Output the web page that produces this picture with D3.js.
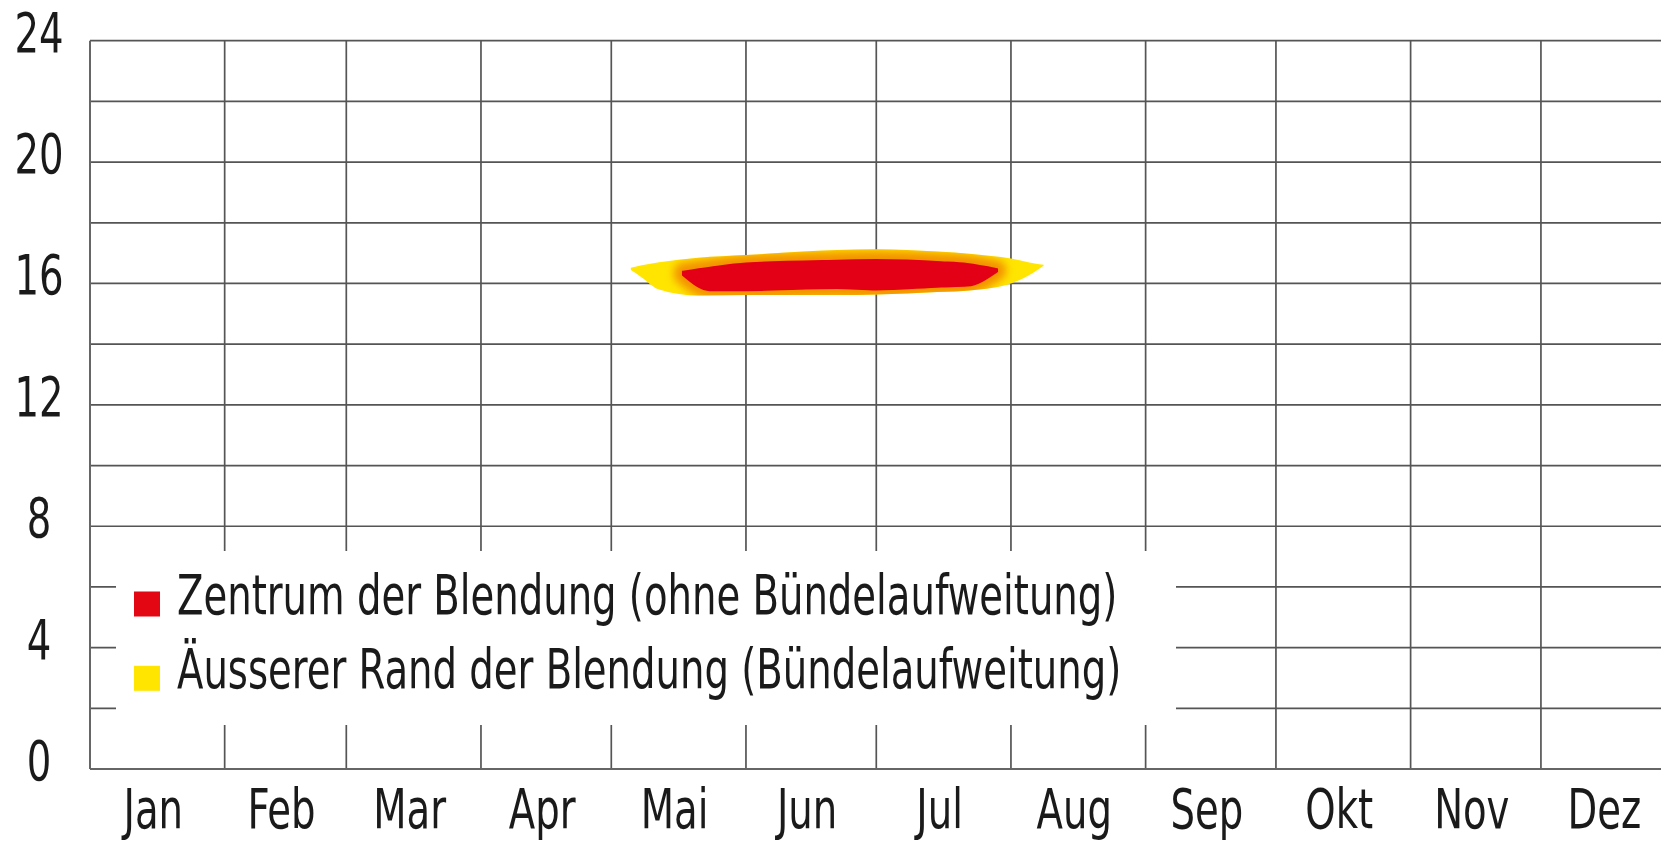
<head>
<style>
    body { margin: 0; background: #fff; }
    text { font-family: 'Liberation Sans Narrow', 'DejaVu Sans Condensed', 'DejaVu Sans', sans-serif; fill: #1a1a1a; }
</style>
</head>
<body>
    <div id='chart'></div>
</body>
<script src='https://cdn.jsdelivr.net/npm/d3@7'></script>
<script>
    var width = 1661,
        height = 842;

    // months and their length in days (x axis is day of year)
    var months = ['Jan', 'Feb', 'Mar', 'Apr', 'Mai', 'Jun', 'Jul', 'Aug', 'Sep', 'Okt', 'Nov', 'Dez'];
    var month_days = [31, 28, 31, 30, 31, 30, 31, 31, 30, 31, 30, 31];

    var y_labels = [0, 4, 8, 12, 16, 20, 24];
    var y_grid = [2, 4, 6, 8, 10, 12, 14, 16, 18, 20, 22, 24];

    // outer edge of glare (yellow), day of year / lower hour / upper hour
    var outer_day = [124.5, 127, 131, 140, 151, 172, 181, 195, 203, 212, 217.5, 219.5];
    var outer_lo  = [16.44, 16.20, 15.80, 15.60, 15.62, 15.62, 15.64, 15.72, 15.78, 16.00, 16.39, 16.58];
    var outer_hi  = [16.52, 16.60, 16.70, 16.85, 16.94, 17.10, 17.13, 17.05, 16.97, 16.82, 16.66, 16.62];

    // centre of glare (red)
    var inner_day = [136.5, 142.7, 151, 172, 181, 196, 202, 208.8];
    var inner_lo  = [16.28, 15.78, 15.78, 15.85, 15.80, 15.90, 15.93, 16.40];
    var inner_hi  = [16.39, 16.52, 16.66, 16.75, 16.77, 16.70, 16.64, 16.47];

    var legend_items = ['Zentrum der Blendung (ohne Bündelaufweitung)', 'Äusserer Rand der Blendung (Bündelaufweitung)'];
    var legend_colors = ['#e30613', '#ffe500'];

    var margin = {left: 90, top: 40.7, bottom: 769};
    var squeeze = 0.78; // the original uses a condensed face

    var svg = d3.select('#chart')
        .append('svg')
        .attr('width', width)
        .attr('height', height);

    var month_start = [0];
    month_days.forEach(function(d, i){ month_start.push(month_start[i] + d); });

    var x = d3.scaleLinear()
        .domain([0, 365])
        .range([margin.left, 1675.6]);

    var y = d3.scaleLinear()
        .domain([0, 24])
        .range([margin.bottom, margin.top]);

    var area = d3.area()
        .x(function(d){ return x(d.day); })
        .y0(function(d){ return y(d.lo); })
        .y1(function(d){ return y(d.hi); })
        .curve(d3.curveMonotoneX);

    var outer = outer_day.map(function(d, i){ return {day: d, lo: outer_lo[i], hi: outer_hi[i]}; });
    var inner = inner_day.map(function(d, i){ return {day: d, lo: inner_lo[i], hi: inner_hi[i]}; });

    var defs = svg.append('defs');
    defs.append('filter')
        .attr('id', 'soft')
        .attr('x', '-20%').attr('y', '-100%').attr('width', '140%').attr('height', '300%')
        .append('feGaussianBlur')
        .attr('stdDeviation', 4);
    defs.append('filter')
        .attr('id', 'edge')
        .append('feGaussianBlur')
        .attr('stdDeviation', 0.7);
    defs.append('clipPath')
        .attr('id', 'outer-clip')
        .append('path')
        .attr('d', area(outer));

    var grid = svg.append('g');

    // horizontal grid lines
    grid.selectAll('line.h')
        .data(y_grid)
        .join('line')
        .attr('class', 'h')
        .attr('x1', margin.left)
        .attr('x2', x(365))
        .attr('y1', function(d){ return y(d); })
        .attr('y2', function(d){ return y(d); })
        .style('stroke', '#555')
        .style('stroke-width', 1.7);

    // vertical grid lines at month boundaries
    grid.selectAll('line.v')
        .data(month_start.slice(1, 12))
        .join('line')
        .attr('class', 'v')
        .attr('x1', function(d){ return x(d); })
        .attr('x2', function(d){ return x(d); })
        .attr('y1', y(24))
        .attr('y2', y(0))
        .style('stroke', '#555')
        .style('stroke-width', 1.7);

    // axes
    svg.append('line')
        .attr('x1', margin.left).attr('x2', margin.left)
        .attr('y1', y(24)).attr('y2', y(0))
        .style('stroke', '#666').style('stroke-width', 2);
    svg.append('line')
        .attr('x1', margin.left).attr('x2', x(365))
        .attr('y1', y(0)).attr('y2', y(0))
        .style('stroke', '#666').style('stroke-width', 2);

    // glare areas
    var glare = svg.append('g');

    glare.append('path')
        .attr('d', area(outer))
        .style('fill', '#ffe500')
        .style('filter', 'url(#edge)');

    glare.append('g')
        .attr('clip-path', 'url(#outer-clip)')
        .append('path')
        .attr('d', area(inner))
        .style('fill', '#f7a600')
        .style('stroke', '#f39200')
        .style('stroke-width', 18)
        .style('stroke-linejoin', 'round')
        .style('filter', 'url(#soft)');

    glare.append('path')
        .attr('d', area(inner))
        .style('fill', '#e30613')
        .style('stroke', '#e30613')
        .style('stroke-width', 2)
        .style('filter', 'url(#edge)');

    // y labels
    svg.selectAll('text.ylab')
        .data(y_labels)
        .join('text')
        .attr('class', 'ylab')
        .attr('transform', function(d){ return 'translate(39,' + (y(d) + 11) + ') scale(' + squeeze + ',1)'; })
        .attr('text-anchor', 'middle')
        .style('font-size', '55px')
        .text(function(d){ return d; });

    // month labels
    svg.selectAll('text.mlab')
        .data(months)
        .join('text')
        .attr('class', 'mlab')
        .attr('transform', function(d, i){
            return 'translate(' + (x(month_start[i] + month_days[i] / 2) - 4) + ',828) scale(' + squeeze + ',1)';
        })
        .attr('text-anchor', 'middle')
        .style('font-size', '55px')
        .text(function(d){ return d; });

    // legend with white background
    var legend = svg.append('g');

    legend.append('rect')
        .attr('x', 116).attr('y', 551)
        .attr('width', 1176 - 116).attr('height', 725 - 551)
        .style('fill', '#fff');

    var rows = legend.selectAll('g.row')
        .data(legend_items)
        .join('g')
        .attr('class', 'row')
        .attr('transform', function(d, i){ return 'translate(134,' + (614 + i * 74.3) + ')'; });

    rows.append('rect')
        .attr('x', 0).attr('y', -22.5)
        .attr('width', 26).attr('height', 25)
        .style('fill', function(d, i){ return legend_colors[i]; });

    rows.append('text')
        .attr('transform', 'translate(43,0) scale(' + squeeze + ',1)')
        .style('font-size', '55px')
        .text(function(d){ return d; });
</script>
